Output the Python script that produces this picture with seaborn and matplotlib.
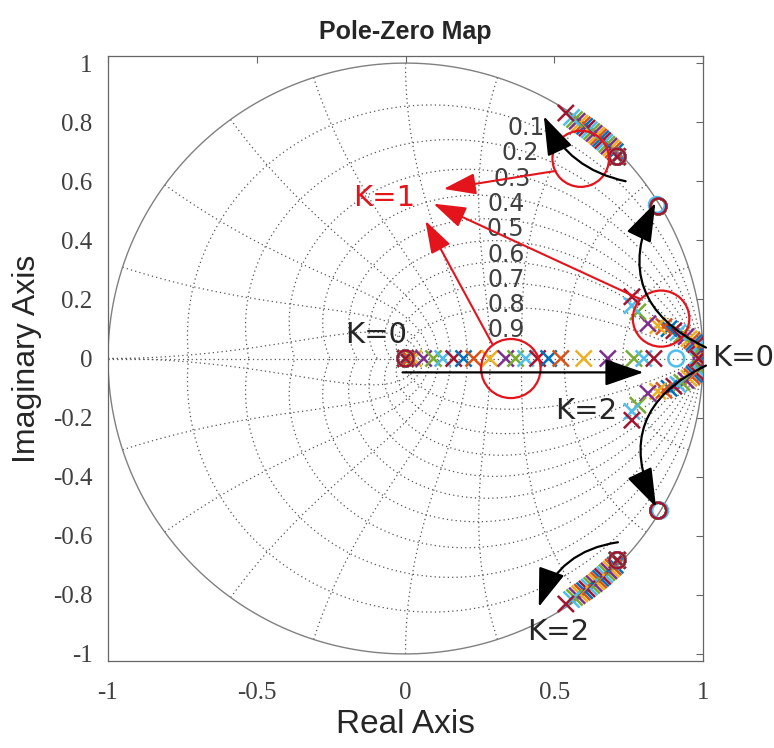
import numpy as np
import pandas as pd
import matplotlib
matplotlib.use('Agg')
import matplotlib.pyplot as plt
import seaborn as sns
from matplotlib.patches import Circle

sns.set_style('white')
plt.rcParams['font.family'] = ['DejaVu Sans']

# gain values of the family of systems (one colour each, MATLAB order)
gains = [0.0, 0.1, 0.2, 0.3, 0.4, 0.5, 0.6, 0.7, 0.8, 0.9, 1.0,
         1.1, 1.2, 1.3, 1.4, 1.5, 1.6, 1.7, 1.8, 1.9, 2.0]
matlab_colors = ['#0072BD', '#D95319', '#EDB120', '#7E2F8E', '#77AC30', '#4DBEEE', '#A2142F']

# moving real pole
real_pole = [0.0, 0.013, 0.027, 0.061, 0.094, 0.125, 0.162, 0.195, 0.229, 0.283, 0.337,
             0.370, 0.404, 0.444, 0.481, 0.522, 0.599, 0.680, 0.768, 0.801, 0.835]
# complex pair near z=1 (upper half, mirrored below)
pair1_re = [1.000, 1.000, 0.997, 0.993, 0.990, 0.983, 0.976, 0.970, 0.963, 0.953, 0.943,
            0.929, 0.916, 0.902, 0.886, 0.869, 0.848, 0.815, 0.781, 0.761, 0.761]
pair1_im = [0.007, 0.013, 0.020, 0.027, 0.034, 0.040, 0.047, 0.054, 0.061, 0.067, 0.074,
            0.081, 0.088, 0.094, 0.101, 0.108, 0.111, 0.118, 0.158, 0.179, 0.209]
# complex pair close to the unit circle
pair2_re = [0.705, 0.698, 0.691, 0.684, 0.677, 0.670, 0.663, 0.656, 0.649, 0.642, 0.634,
            0.626, 0.618, 0.610, 0.602, 0.594, 0.586, 0.577, 0.568, 0.558, 0.539]
pair2_im = [0.700, 0.706, 0.713, 0.719, 0.725, 0.732, 0.738, 0.744, 0.750, 0.756, 0.762,
            0.768, 0.774, 0.780, 0.786, 0.791, 0.797, 0.803, 0.809, 0.816, 0.831]
# poles / zeros common to every system
fixed_poles_re = [0.0, 0.712, 0.712, 0.985]
fixed_poles_im = [0.0, 0.683, -0.683, 0.0]
fixed_zeros_re = [0.0, 0.712, 0.712, 0.850, 0.850]
fixed_zeros_im = [0.0, 0.683, -0.683, 0.515, -0.515]
# system 19 has slightly different zeros
alt_zeros_re = [0.0, 0.712, 0.712, 0.845, 0.856, 0.910]
alt_zeros_im = [0.0, 0.683, -0.683, 0.520, -0.515, 0.0]

zeta_grid = [0.1, 0.2, 0.3, 0.4, 0.5, 0.6, 0.7, 0.8, 0.9]
wn_grid = [0.1, 0.2, 0.3, 0.4, 0.5, 0.6, 0.7, 0.8, 0.9, 1.0]  # times pi/T
zeta_label_x = [0.407, 0.387, 0.357, 0.340, 0.337, 0.337, 0.337, 0.337, 0.337]
zeta_label_y = [0.780, 0.696, 0.608, 0.524, 0.439, 0.351, 0.267, 0.182, 0.098]

# build tables for seaborn
prow, zrow = [], []
for i in range(len(gains)):
    p_re = [real_pole[i], pair1_re[i], pair1_re[i], pair2_re[i], pair2_re[i]] + fixed_poles_re
    p_im = [0.0, pair1_im[i], -pair1_im[i], pair2_im[i], -pair2_im[i]] + fixed_poles_im
    for a, b in zip(p_re, p_im):
        prow.append({'re': a, 'im': b, 'sys': i})
    zr, zi = (alt_zeros_re, alt_zeros_im) if i == 19 else (fixed_zeros_re, fixed_zeros_im)
    for a, b in zip(zr, zi):
        zrow.append({'re': a, 'im': b, 'sys': i})
poles = pd.DataFrame(prow)
zeros = pd.DataFrame(zrow)
pal = {i: matlab_colors[i % 7] for i in range(len(gains))}

fig = plt.figure(figsize=(7.74, 7.48), dpi=100)
ax = fig.add_axes([108/774, 87/748, 595/774, 605/748])

# z-plane grid
grid_kw = dict(color='#555555', lw=0.9, ls=(0, (1, 2.5)), zorder=1)
th = np.linspace(0, np.pi, 300)
for z in zeta_grid:
    r = np.exp(-z / np.sqrt(1 - z**2) * th)
    ax.plot(r*np.cos(th), r*np.sin(th), **grid_kw)
    ax.plot(r*np.cos(th), -r*np.sin(th), **grid_kw)
zz = np.linspace(0, 1, 200)
for w in wn_grid:
    p = np.exp(w*np.pi*(-zz + 1j*np.sqrt(1 - zz**2)))
    ax.plot(p.real, p.imag, **grid_kw)
    ax.plot(p.real, -p.imag, **grid_kw)
ax.plot([-1, 1], [0, 0], **grid_kw)
ax.plot(np.cos(2*th), np.sin(2*th), color='#808080', lw=1.0, zorder=1)

for s, x, y in zip(zeta_grid, zeta_label_x, zeta_label_y):
    ax.text(x, y, str(s), fontsize=17, color='#404040', ha='center', va='center', zorder=2)

# poles and zeros
sns.scatterplot(data=poles, x='re', y='im', hue='sys', palette=pal, marker='x',
                s=135, linewidth=1.8, legend=False, ax=ax, zorder=3)
sns.scatterplot(data=zeros, x='re', y='im', hue='sys', palette=pal, marker='o',
                s=130, linewidth=1.8, legend=False, ax=ax, zorder=4)
zc = ax.collections[-1]
zc.set_edgecolors(zc.get_facecolors())
zc.set_facecolors('none')

# red highlight circles and arrows
red = '#E3141C'
for cx, cy, rr in [(0.354, -0.034, 0.10), (0.589, 0.676, 0.095), (0.859, 0.135, 0.095)]:
    ax.add_patch(Circle((cx, cy), rr, fill=False, ec=red, lw=1.6, zorder=5))
red_kw = dict(arrowstyle='-|>,head_length=1.0,head_width=0.33', color=red, lw=1.5,
              mutation_scale=20, shrinkA=0, shrinkB=0)
for tail, tip in [((0.505, 0.635), (0.128, 0.574)),
                  ((0.785, 0.203), (0.094, 0.524)),
                  ((0.293, 0.047), (0.067, 0.466))]:
    ax.annotate('', xy=tip, xytext=tail, arrowprops=red_kw, zorder=6)
ax.text(-0.071, 0.544, 'K=1', color=red, fontsize=21, ha='center', va='center')

# black locus arrows
for tail, tip, rad in [((-0.01, -0.047), (0.80, -0.047), 0.0),
                       ((0.74, 0.60), (0.465, 0.82), -0.25),
                       ((1.01, 0.037), (0.84, 0.527), -0.5),
                       ((1.01, -0.024), (0.842, -0.503), 0.5),
                       ((0.714, -0.622), (0.448, -0.841), 0.3)]:
    ax.annotate('', xy=tip, xytext=tail, zorder=6, annotation_clip=False,
                arrowprops=dict(arrowstyle='-|>,head_length=1.1,head_width=0.38', color='k',
                                lw=1.6, mutation_scale=22, shrinkA=0, shrinkB=0,
                                connectionstyle='arc3,rad=%s' % rad))

ax.text(-0.098, 0.081, 'K=0', fontsize=21, ha='center', va='center')
ax.text(1.135, 0.003, 'K=0', fontsize=21, ha='center', va='center', clip_on=False)
ax.text(0.606, -0.179, 'K=2', fontsize=21, ha='center', va='center')
ax.text(0.512, -0.926, 'K=2', fontsize=21, ha='center', va='center')

ax.set_xlim(-1, 1)
ax.set_ylim(-1.024, 1.024)
ax.set_xticks([-1, -0.5, 0, 0.5, 1])
ax.set_xticklabels(['-1', '-0.5', '0', '0.5', '1'])
ax.set_yticks([-1, -0.8, -0.6, -0.4, -0.2, 0, 0.2, 0.4, 0.6, 0.8, 1])
ax.set_yticklabels(['-1', '-0.8', '-0.6', '-0.4', '-0.2', '0', '0.2', '0.4', '0.6', '0.8', '1'])
ax.tick_params(direction='in', length=5, width=0.8, color='#666666', top=True, right=True,
               labelcolor='#404040', labelsize=18)
ax.tick_params(axis='x', pad=15)
ax.tick_params(axis='y', pad=11)
for lab in ax.get_xticklabels() + ax.get_yticklabels():
    lab.set_family('Liberation Serif')
for sp in ax.spines.values():
    sp.set_color('#666666')
    sp.set_linewidth(0.9)

ax.set_xlabel('Real Axis', fontsize=24, family='Liberation Sans', labelpad=4)
ax.set_ylabel('Imaginary Axis', fontsize=23, family='Liberation Sans', labelpad=8)
ax.set_title('Pole-Zero Map', fontsize=18, fontweight='bold', family='Liberation Sans', pad=12)

fig.savefig('out.png', dpi=100)
